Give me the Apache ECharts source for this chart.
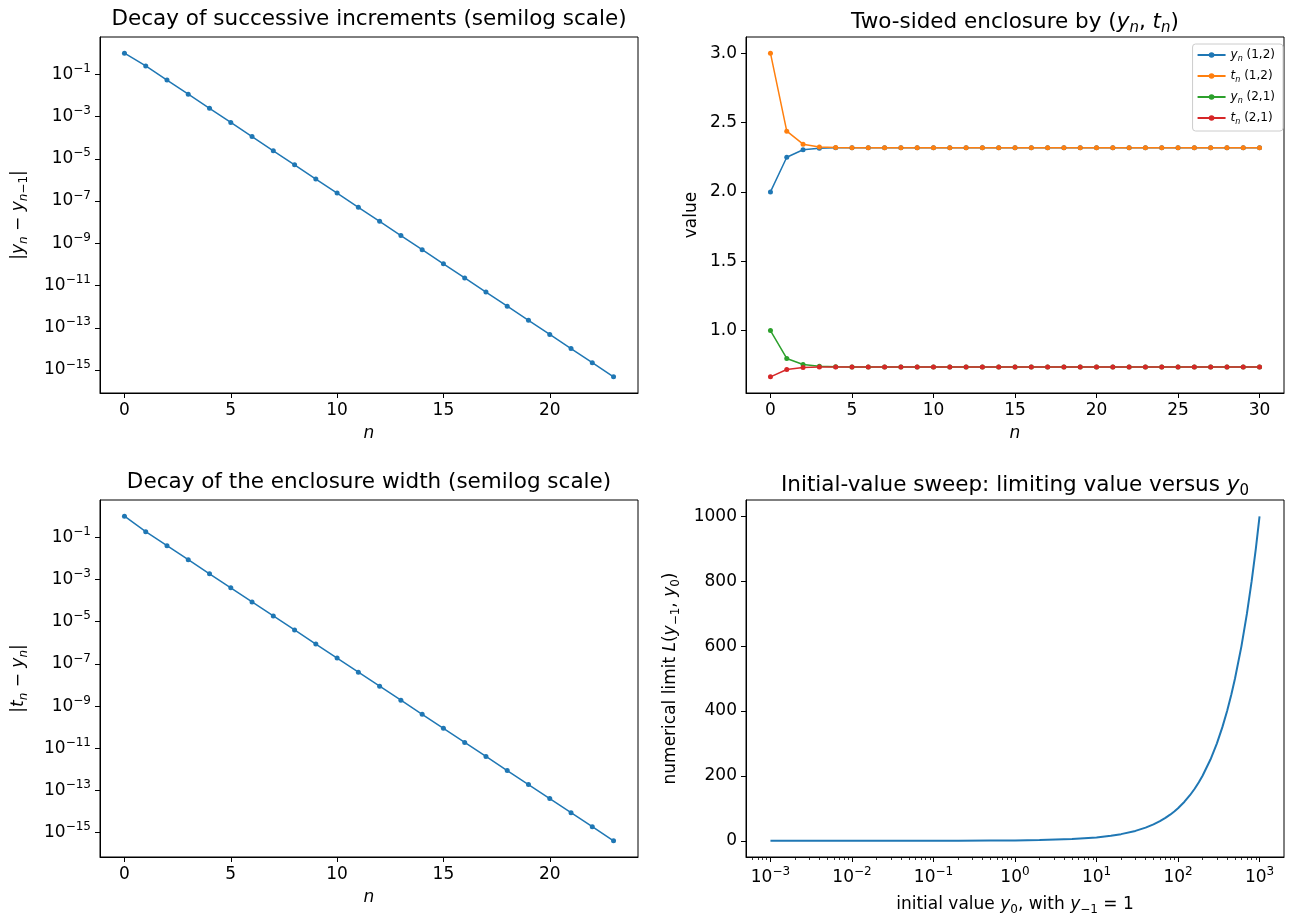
<!DOCTYPE html>
<html><head><meta charset="utf-8">
<script src="https://cdn.jsdelivr.net/npm/echarts@6/dist/echarts.min.js"></script>
<style>html,body{margin:0;padding:0;background:#fff}#c{width:1293px;height:922px}</style>
</head><body><div id="c"></div>
<script>
// ---------- data ----------
const nSteps = [0,1,2,3,4,5,6,7,8,9,10,11,12,13,14,15,16,17,18,19,20,21,22,23];
const incrementsAbs = [1, 0.248, 0.0532, 0.0114, 0.00244, 5.24e-4, 1.12e-4, 2.40e-5, 5.15e-6, 1.10e-6,
  2.37e-7, 5.07e-8, 1.09e-8, 2.33e-9, 4.99e-10, 1.07e-10, 2.29e-11, 4.91e-12, 1.05e-12, 2.25e-13,
  4.83e-14, 1.04e-14, 2.22e-15, 4.75e-16];
const widthAbs = [1, 0.186, 0.0402, 0.00867, 0.00187, 4.04e-4, 8.71e-5, 1.88e-5, 4.06e-6, 8.75e-7,
  1.89e-7, 4.07e-8, 8.79e-9, 1.90e-9, 4.09e-10, 8.83e-11, 1.91e-11, 4.11e-12, 8.87e-13, 1.91e-13,
  4.13e-14, 8.91e-15, 1.92e-15, 4.15e-16];

const nEncl = [0,1,2,3,4,5,6,7,8,9,10,11,12,13,14,15,16,17,18,19,20,21,22,23,24,25,26,27,28,29,30];
const yn12 = [2.0, 2.25, 2.304, 2.3152, 2.3176, 2.3181, 2.3182, 2.3182, 2.3182, 2.3182, 2.3182, 2.3182, 2.3182, 2.3182, 2.3182, 2.3182,
  2.3182, 2.3182, 2.3182, 2.3182, 2.3182, 2.3182, 2.3182, 2.3182, 2.3182, 2.3182, 2.3182, 2.3182, 2.3182, 2.3182, 2.3182];
const tn12 = [3.0, 2.438, 2.344, 2.3239, 2.3195, 2.3186, 2.3183, 2.3182, 2.3182, 2.3182, 2.3182, 2.3182, 2.3182, 2.3182, 2.3182, 2.3182,
  2.3182, 2.3182, 2.3182, 2.3182, 2.3182, 2.3182, 2.3182, 2.3182, 2.3182, 2.3182, 2.3182, 2.3182, 2.3182, 2.3182, 2.3182];
const yn21 = [1.0, 0.799, 0.756, 0.7435, 0.7395, 0.7383, 0.7381, 0.738, 0.738, 0.738, 0.738, 0.738, 0.738, 0.738, 0.738, 0.738,
  0.738, 0.738, 0.738, 0.738, 0.738, 0.738, 0.738, 0.738, 0.738, 0.738, 0.738, 0.738, 0.738, 0.738, 0.738];
const tn21 = [0.6667, 0.719, 0.734, 0.7372, 0.7378, 0.738, 0.738, 0.738, 0.738, 0.738, 0.738, 0.738, 0.738, 0.738, 0.738, 0.738,
  0.738, 0.738, 0.738, 0.738, 0.738, 0.738, 0.738, 0.738, 0.738, 0.738, 0.738, 0.738, 0.738, 0.738, 0.738];

const sweepY0 = [0.001, 0.002, 0.005, 0.01, 0.02, 0.05, 0.1, 0.2, 0.5, 1, 2, 5, 10, 15, 20, 30, 40, 50, 60, 70, 80, 90,
  100, 120, 140, 160, 180, 200, 250, 300, 350, 400, 450, 500, 600, 700, 800, 900, 1000];
const sweepL = [0.011, 0.018, 0.036, 0.058, 0.093, 0.17, 0.26, 0.40, 0.68, 1.0, 2.318, 5.38, 10.41, 15.42, 20.43, 30.44, 40.45, 50.45, 60.46, 70.46, 80.46, 90.46,
  100.47, 120.47, 140.47, 160.47, 180.47, 200.47, 250.47, 300.47, 350.47, 400.47, 450.47, 500.47, 600.48, 700.48, 800.48, 900.48, 1000.48];

const semilogYTicks = [1e-1, 1e-3, 1e-5, 1e-7, 1e-9, 1e-11, 1e-13, 1e-15];
const nTicksShort = [0, 5, 10, 15, 20];
const nTicksLong = [0, 5, 10, 15, 20, 25, 30];
const enclYTicks = [1.0, 1.5, 2.0, 2.5, 3.0];
const sweepXTicks = [1e-3, 1e-2, 1e-1, 1e0, 1e1, 1e2, 1e3];
const sweepYTicks = [0, 200, 400, 600, 800, 1000];
const legendNames = ['y_n (1,2)', 't_n (1,2)', 'y_n (2,1)', 't_n (2,1)'];

// ---------- styling ----------
const F = 'DejaVu Sans';
const C = ['#1f77b4', '#ff7f0e', '#2ca02c', '#d62728'];
const TICK = 17, TITLE = 21.5, LAB = 17, LEG = 12;

function rich(fs) {
  return {
    r: {fontFamily: F, fontSize: fs, color: '#000', lineHeight: Math.round(fs * 1.3)},
    i: {fontFamily: F, fontSize: fs, color: '#000', fontStyle: 'italic', lineHeight: Math.round(fs * 1.3)},
    sub: {fontFamily: F, fontSize: Math.round(fs * 0.7), color: '#000', verticalAlign: 'bottom', lineHeight: Math.round(fs * 0.75)},
    isub: {fontFamily: F, fontSize: Math.round(fs * 0.7), color: '#000', fontStyle: 'italic', verticalAlign: 'bottom', lineHeight: Math.round(fs * 0.75)},
    b: {fontFamily: F, fontSize: fs, color: '#000', lineHeight: Math.round(fs * 1.35)},
    sup: {fontFamily: F, fontSize: Math.round(fs * 0.7), color: '#000', verticalAlign: 'top', lineHeight: Math.round(fs * 0.7)}
  };
}
function pow10Label(v) {
  const e = Math.round(Math.log10(v));
  return '{b|10}{sup|' + (e < 0 ? '\u2212' + (-e) : String(e)) + '}';
}
function legendLabel(name) {
  const m = name.match(/^([yt])_n (.*)$/);
  return '{i|' + m[1] + '}{isub|n}{r| ' + m[2] + '}';
}

const axisCommon = {
  axisLine: {show: true, onZero: false, lineStyle: {color: '#000', width: 1}},
  axisTick: {show: true, inside: false, length: 5, lineStyle: {color: '#000', width: 1}},
  splitLine: {show: false},
  minorTick: {show: false}
};
function xAx(grid, extra) {
  return Object.assign({}, axisCommon, {gridIndex: grid, position: 'bottom', nameLocation: 'middle'}, extra);
}
function yAx(grid, extra) {
  return Object.assign({}, axisCommon, {gridIndex: grid, position: 'left', nameLocation: 'middle', nameRotate: 90}, extra);
}

const gridBox = {show: true, borderColor: '#000', borderWidth: 1, backgroundColor: 'transparent', containLabel: false};
const grids = [
  Object.assign({left: 100, top: 37, width: 538, height: 356}, gridBox),
  Object.assign({left: 746, top: 37, width: 538, height: 356}, gridBox),
  Object.assign({left: 100, top: 500, width: 538, height: 357}, gridBox),
  Object.assign({left: 746, top: 500, width: 538, height: 357}, gridBox)
];

function titleAt(cx, top, text) {
  return {text: text, left: cx, top: top, textAlign: 'center', padding: 0,
    textStyle: {fontFamily: F, fontSize: TITLE, fontWeight: 'normal', color: '#000', rich: rich(TITLE)}};
}

const minorSweep = [];
for (let d = -4; d <= 2; d++) for (let k = 2; k <= 9; k++) {
  const v = k * Math.pow(10, d);
  if (v > Math.pow(10, -3.3) && v < Math.pow(10, 3.3)) minorSweep.push(v);
}

const tickLabel = {fontFamily: F, fontSize: TICK, color: '#000', margin: 9};

const option = {
  animation: false,
  backgroundColor: '#fff',
  title: [
    titleAt(369, 8, 'Decay of successive increments (semilog scale)'),
    titleAt(1015, 8, '{r|Two-sided enclosure by (}{i|y}{isub|n}{r|, }{i|t}{isub|n}{r|)}'),
    titleAt(369, 471, 'Decay of the enclosure width (semilog scale)'),
    titleAt(1015, 471, '{r|Initial-value sweep: limiting value versus }{i|y}{sub|0}')
  ],
  grid: grids,
  legend: {
    orient: 'vertical', right: 10, top: 44,
    data: legendNames,
    itemWidth: 28, itemHeight: 7, itemGap: 7,
    padding: [5, 8, 5, 4],
    borderColor: '#cccccc', borderWidth: 1, borderRadius: 3, backgroundColor: 'rgba(255,255,255,0.8)',
    formatter: legendLabel,
    textStyle: {fontFamily: F, fontSize: LEG, color: '#000', rich: rich(LEG)}
  },
  xAxis: [
    xAx(0, {type: 'value', min: -1.15, max: 24.15,
      axisTick: Object.assign({}, axisCommon.axisTick, {customValues: nTicksShort}),
      axisLabel: Object.assign({}, tickLabel, {customValues: nTicksShort}),
      name: '{i|n}', nameGap: 30, nameTextStyle: {fontSize: LAB, rich: rich(LAB)}}),
    xAx(1, {type: 'value', min: -1.5, max: 31.5,
      axisTick: Object.assign({}, axisCommon.axisTick, {customValues: nTicksLong}),
      axisLabel: Object.assign({}, tickLabel, {customValues: nTicksLong}),
      name: '{i|n}', nameGap: 30, nameTextStyle: {fontSize: LAB, rich: rich(LAB)}}),
    xAx(2, {type: 'value', min: -1.15, max: 24.15,
      axisTick: Object.assign({}, axisCommon.axisTick, {customValues: nTicksShort}),
      axisLabel: Object.assign({}, tickLabel, {customValues: nTicksShort}),
      name: '{i|n}', nameGap: 30, nameTextStyle: {fontSize: LAB, rich: rich(LAB)}}),
    xAx(3, {type: 'log', logBase: 10, min: Math.pow(10, -3.3), max: Math.pow(10, 3.3),
      axisTick: Object.assign({}, axisCommon.axisTick, {customValues: sweepXTicks}),
      axisLabel: Object.assign({}, tickLabel, {customValues: sweepXTicks, formatter: pow10Label, rich: rich(TICK)}),
      name: '{r|initial value }{i|y}{sub|0}{r|, with }{i|y}{sub|\u22121}{r| = 1}', nameGap: 37,
      nameTextStyle: {fontSize: LAB, rich: rich(LAB)}}),
    xAx(3, {type: 'log', logBase: 10, min: Math.pow(10, -3.3), max: Math.pow(10, 3.3),
      axisLine: {show: false, onZero: false},
      axisTick: {show: true, inside: false, length: 3, customValues: minorSweep, lineStyle: {color: '#000', width: 0.8}},
      axisLabel: {show: false}})
  ],
  yAxis: [
    yAx(0, {type: 'log', logBase: 10, min: Math.pow(10, -16.089), max: Math.pow(10, 0.766),
      axisTick: Object.assign({}, axisCommon.axisTick, {customValues: semilogYTicks}),
      axisLabel: Object.assign({}, tickLabel, {customValues: semilogYTicks, formatter: pow10Label, rich: rich(TICK)}),
      name: '{r||}{i|y}{isub|n}{r| \u2212 }{i|y}{isub|n}{sub|\u22121}{r||}', nameGap: 70,
      nameTextStyle: {fontSize: LAB, rich: rich(LAB)}}),
    yAx(1, {type: 'value', min: 0.55, max: 3.1167,
      axisTick: Object.assign({}, axisCommon.axisTick, {customValues: enclYTicks}),
      axisLabel: Object.assign({}, tickLabel, {customValues: enclYTicks, formatter: v => v.toFixed(1)}),
      name: 'value', nameGap: 46,
      nameTextStyle: {fontFamily: F, fontSize: LAB, color: '#000'}}),
    yAx(2, {type: 'log', logBase: 10, min: Math.pow(10, -16.151), max: Math.pow(10, 0.769),
      axisTick: Object.assign({}, axisCommon.axisTick, {customValues: semilogYTicks}),
      axisLabel: Object.assign({}, tickLabel, {customValues: semilogYTicks, formatter: pow10Label, rich: rich(TICK)}),
      name: '{r||}{i|t}{isub|n}{r| \u2212 }{i|y}{isub|n}{r||}', nameGap: 70,
      nameTextStyle: {fontSize: LAB, rich: rich(LAB)}}),
    yAx(3, {type: 'value', min: -50.05, max: 1051,
      axisTick: Object.assign({}, axisCommon.axisTick, {customValues: sweepYTicks}),
      axisLabel: Object.assign({}, tickLabel, {customValues: sweepYTicks, formatter: v => String(Math.round(v))}),
      name: '{r|numerical limit }{i|L}{r|(}{i|y}{sub|\u22121}{r|, }{i|y}{sub|0}{r|)}', nameGap: 64,
      nameTextStyle: {fontSize: LAB, rich: rich(LAB)}})
  ],
  series: [
    {type: 'line', name: 'incr', xAxisIndex: 0, yAxisIndex: 0, data: nSteps.map((n, i) => [n, incrementsAbs[i]]),
      symbol: 'circle', symbolSize: 5, showSymbol: true, color: C[0], lineStyle: {width: 1.5, color: C[0]}, itemStyle: {color: C[0]}},
    {type: 'line', name: legendNames[0], xAxisIndex: 1, yAxisIndex: 1, data: nEncl.map((n, i) => [n, yn12[i]]),
      symbol: 'circle', symbolSize: 5, color: C[0], lineStyle: {width: 1.5, color: C[0]}, itemStyle: {color: C[0]}},
    {type: 'line', name: legendNames[1], xAxisIndex: 1, yAxisIndex: 1, data: nEncl.map((n, i) => [n, tn12[i]]),
      symbol: 'circle', symbolSize: 5, color: C[1], lineStyle: {width: 1.5, color: C[1]}, itemStyle: {color: C[1]}},
    {type: 'line', name: legendNames[2], xAxisIndex: 1, yAxisIndex: 1, data: nEncl.map((n, i) => [n, yn21[i]]),
      symbol: 'circle', symbolSize: 5, color: C[2], lineStyle: {width: 1.5, color: C[2]}, itemStyle: {color: C[2]}},
    {type: 'line', name: legendNames[3], xAxisIndex: 1, yAxisIndex: 1, data: nEncl.map((n, i) => [n, tn21[i]]),
      symbol: 'circle', symbolSize: 5, color: C[3], lineStyle: {width: 1.5, color: C[3]}, itemStyle: {color: C[3]}},
    {type: 'line', name: 'width', xAxisIndex: 2, yAxisIndex: 2, data: nSteps.map((n, i) => [n, widthAbs[i]]),
      symbol: 'circle', symbolSize: 5, color: C[0], lineStyle: {width: 1.5, color: C[0]}, itemStyle: {color: C[0]}},
    {type: 'line', name: 'sweep', xAxisIndex: 3, yAxisIndex: 3, data: sweepY0.map((x, i) => [x, sweepL[i]]),
      symbol: 'none', showSymbol: false, color: C[0], lineStyle: {width: 2, color: C[0]}}
  ]
};
const chart = echarts.init(document.getElementById('c'), null, {renderer: 'canvas'});
chart.setOption(option);
</script></body></html>
